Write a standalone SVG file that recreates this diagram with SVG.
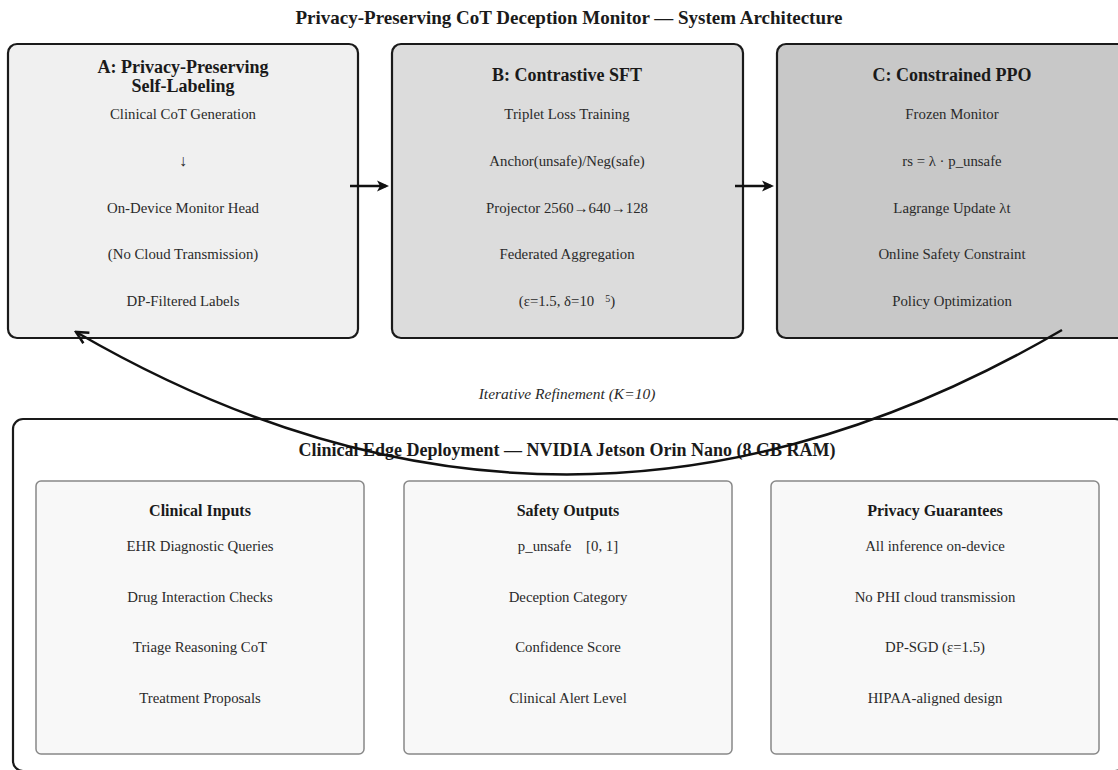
<svg xmlns="http://www.w3.org/2000/svg" width="1118" height="770" viewBox="0 0 1118 770">
<style>
text{font-family:"Liberation Serif","Times New Roman",serif;fill:#1a1a1a;text-anchor:middle;white-space:pre}
.title{font-size:19px;font-weight:bold}
.btitle{font-size:18px;font-weight:bold}
.htitle{font-size:18px;font-weight:bold}
.item{font-size:14.8px;fill:#2a2a2a}
.ptitle{font-size:16px;font-weight:bold}
.lab{font-size:15.5px;font-style:italic;fill:#2a2a2a}
.stage{stroke:#1a1a1a;stroke-width:2.2}
.panel{fill:#f8f8f8;stroke:#888;stroke-width:1.5}
.conn{fill:none;stroke:#111;stroke-width:2.5}
</style>
<defs>
<marker id="solid" markerWidth="12" markerHeight="12" refX="9" refY="6" orient="auto" markerUnits="userSpaceOnUse" viewBox="0 0 12 12">
<path d="M0,0.5 L12,6 L0,11.5 L3,6 Z" fill="#111"/>
</marker>
<marker id="open" markerWidth="16" markerHeight="16" refX="14" refY="8" orient="auto" markerUnits="userSpaceOnUse" viewBox="0 0 16 16">
<path d="M2,2 L14,8 L2,14" fill="none" stroke="#111" stroke-width="2.5"/>
</marker>
</defs>
<rect width="1118" height="770" fill="#fff"/>
<text class="title" x="569" y="24">Privacy-Preserving CoT Deception Monitor — System Architecture</text>

<g id="stageA">
<rect class="stage" x="8" y="44" width="350" height="294" rx="9" fill="#f0f0f0"/>
<text class="htitle" x="183" y="73">A: Privacy-Preserving</text>
<text class="htitle" x="183" y="92">Self-Labeling</text>
<text class="item" x="183" y="119">Clinical CoT Generation</text>
<text class="item" x="183" y="166" style="font-size:16px">↓</text>
<text class="item" x="183" y="213">On-Device Monitor Head</text>
<text class="item" x="183" y="259">(No Cloud Transmission)</text>
<text class="item" x="183" y="306">DP-Filtered Labels</text>
</g>

<g id="stageB">
<rect class="stage" x="392" y="44" width="351" height="294" rx="9" fill="#dcdcdc"/>
<text class="htitle" x="567" y="81">B: Contrastive SFT</text>
<text class="item" x="567" y="119">Triplet Loss Training</text>
<text class="item" x="567" y="166">Anchor(unsafe)/Neg(safe)</text>
<text class="item" x="567" y="213">Projector 2560<tspan style="font-size:15px">→</tspan>640<tspan style="font-size:15px">→</tspan>128</text>
<text class="item" x="567" y="259">Federated Aggregation</text>
<text class="item" x="567" y="306">(ε=1.5, δ=10   <tspan style="font-size:10px" dy="-4">5</tspan><tspan dy="4">)</tspan></text>
</g>

<g id="stageC">
<rect class="stage" x="777" y="44" width="351" height="294" rx="9" fill="#c8c8c8"/>
<text class="htitle" x="952" y="81">C: Constrained PPO</text>
<text class="item" x="952" y="119">Frozen Monitor</text>
<text class="item" x="952" y="166">rs = λ · p_unsafe</text>
<text class="item" x="952" y="213">Lagrange Update λt</text>
<text class="item" x="952" y="259">Online Safety Constraint</text>
<text class="item" x="952" y="306">Policy Optimization</text>
</g>

<g id="deployment">
<rect x="13" y="419" width="1112" height="352" rx="10" fill="#fff" stroke="#1a1a1a" stroke-width="2.2"/>
<text class="btitle" x="567" y="456">Clinical Edge Deployment — NVIDIA Jetson Orin Nano (8 GB RAM)</text>
</g>

<g id="inputs">
<rect class="panel" x="36" y="481" width="328" height="273" rx="5"/>
<text class="ptitle" x="200" y="516">Clinical Inputs</text>
<text class="item" x="200" y="551">EHR Diagnostic Queries</text>
<text class="item" x="200" y="602">Drug Interaction Checks</text>
<text class="item" x="200" y="652">Triage Reasoning CoT</text>
<text class="item" x="200" y="703">Treatment Proposals</text>
</g>

<g id="outputs">
<rect class="panel" x="404" y="481" width="328" height="273" rx="5"/>
<text class="ptitle" x="568" y="516">Safety Outputs</text>
<text class="item" x="568" y="551">p_unsafe    [0, 1]</text>
<text class="item" x="568" y="602">Deception Category</text>
<text class="item" x="568" y="652">Confidence Score</text>
<text class="item" x="568" y="703">Clinical Alert Level</text>
</g>

<g id="privacy">
<rect class="panel" x="771" y="481" width="328" height="273" rx="5"/>
<text class="ptitle" x="935" y="516">Privacy Guarantees</text>
<text class="item" x="935" y="551">All inference on-device</text>
<text class="item" x="935" y="602">No PHI cloud transmission</text>
<text class="item" x="935" y="652">DP-SGD (ε=1.5)</text>
<text class="item" x="935" y="703">HIPAA-aligned design</text>
</g>

<g id="connectors">
<line class="conn" x1="350" y1="186" x2="386" y2="186" stroke-width="3.5" marker-end="url(#solid)"/>
<line class="conn" x1="735" y1="186" x2="771" y2="186" stroke-width="3.5" marker-end="url(#solid)"/>
<path class="conn" d="M1062,330 Q568,618 76,332" marker-end="url(#open)"/>
<text class="lab" x="567" y="399">Iterative Refinement (K=10)</text>
</g>
</svg>
